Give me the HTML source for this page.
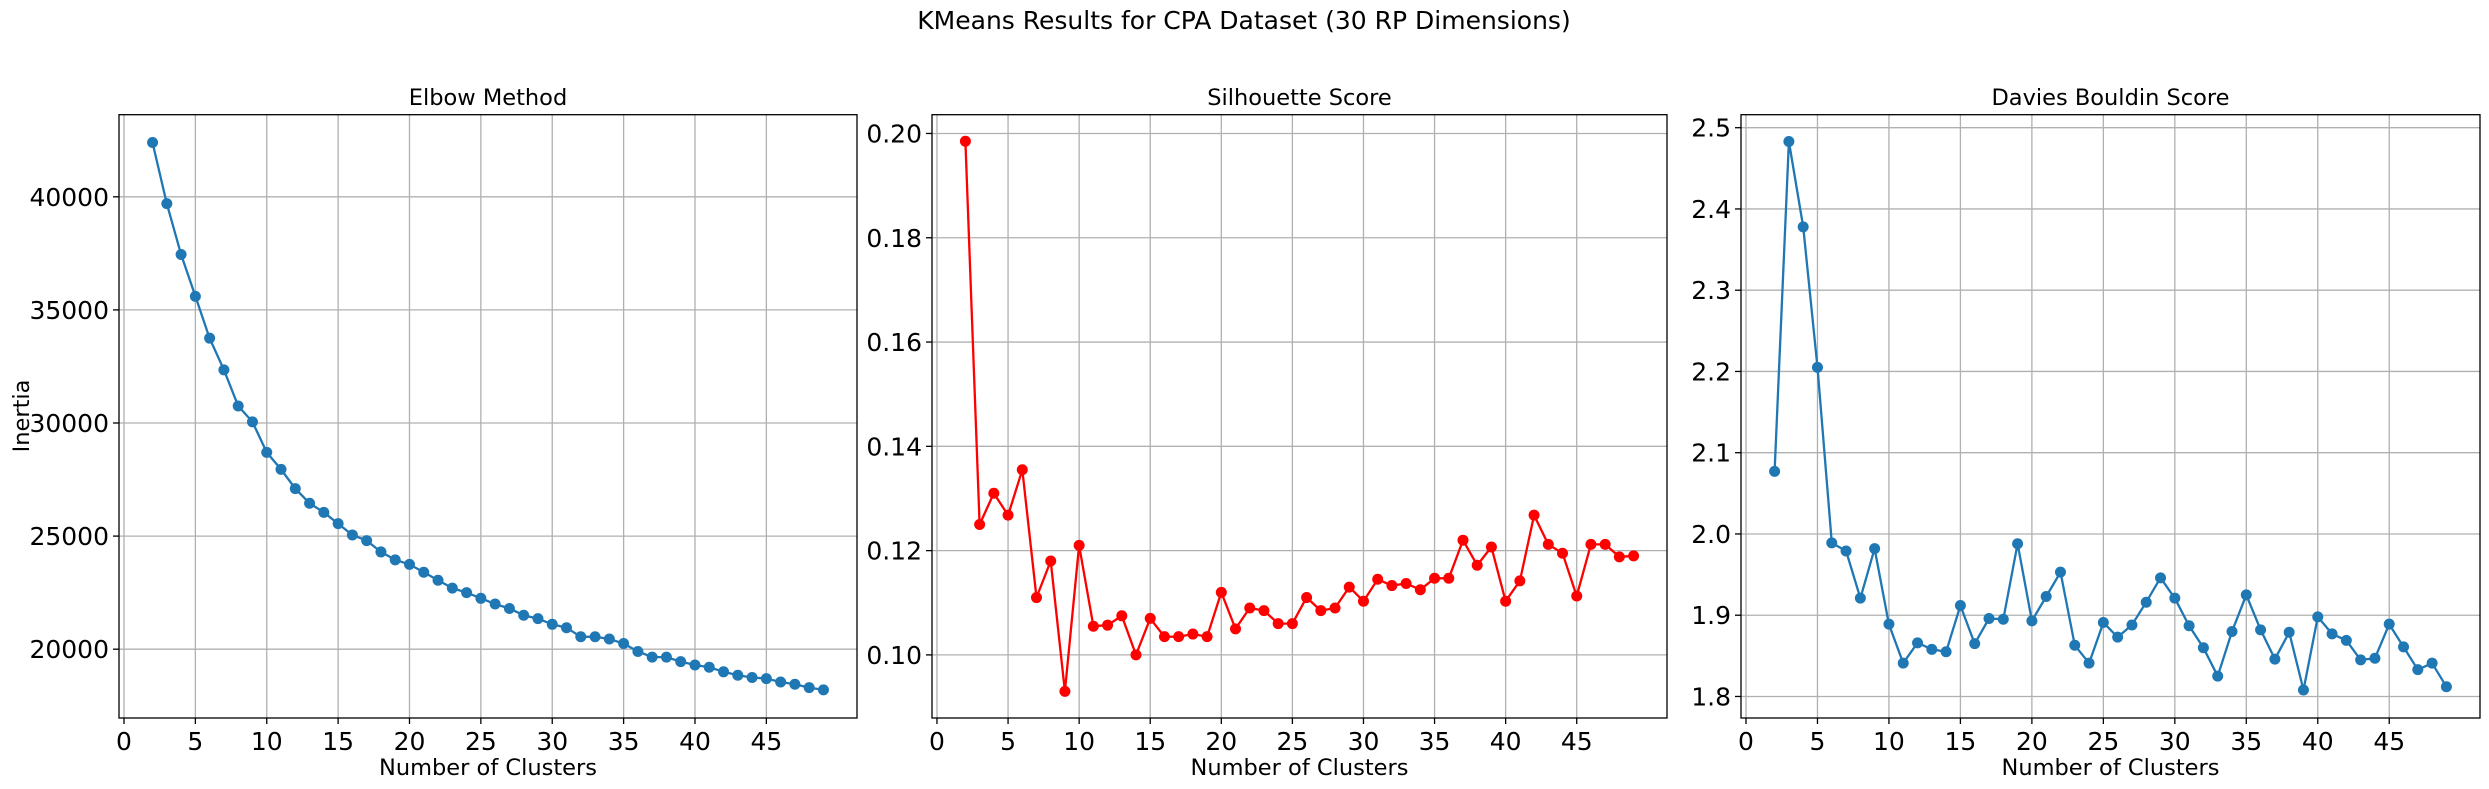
<!DOCTYPE html>
<html><head><meta charset="utf-8"><style>
html,body{margin:0;padding:0;background:#fff;}
svg{display:block;font-family:"DejaVu Sans","Liberation Sans",sans-serif;}
</style></head><body>
<svg id="fig" width="2489" height="789" viewBox="0 0 2489 789" xmlns="http://www.w3.org/2000/svg">
<text x="1244" y="29" text-anchor="middle" font-size="25" fill="#000">KMeans Results for CPA Dataset (30 RP Dimensions)</text>
</svg>
<script>
const clusters = [2,3,4,5,6,7,8,9,10,11,12,13,14,15,16,17,18,19,20,21,22,23,24,25,26,27,28,29,30,31,32,33,34,35,36,37,38,39,40,41,42,43,44,45,46,47,48,49];
const inertia = [42400,39700,37450,35600,33750,32350,30750,30050,28700,27950,27100,26450,26050,25550,25050,24800,24300,23950,23750,23400,23050,22700,22500,22250,22000,21800,21500,21350,21100,20950,20550,20550,20450,20250,19900,19650,19650,19450,19300,19200,19000,18850,18750,18700,18550,18450,18300,18200];
const silhouette = [0.1985,0.125,0.131,0.1268,0.1355,0.111,0.118,0.093,0.121,0.1055,0.1057,0.1075,0.100,0.107,0.1035,0.1035,0.104,0.1035,0.112,0.105,0.109,0.1085,0.106,0.106,0.111,0.1085,0.109,0.113,0.1103,0.1145,0.1133,0.1137,0.1125,0.1147,0.1147,0.122,0.1172,0.1207,0.1103,0.1142,0.1268,0.1212,0.1195,0.1113,0.1212,0.1212,0.1188,0.119];
const davies = [2.077,2.483,2.378,2.205,1.989,1.979,1.921,1.982,1.889,1.841,1.866,1.858,1.855,1.912,1.865,1.896,1.895,1.988,1.893,1.923,1.953,1.863,1.841,1.891,1.873,1.888,1.916,1.946,1.921,1.887,1.86,1.825,1.88,1.925,1.882,1.846,1.879,1.808,1.898,1.877,1.869,1.845,1.847,1.889,1.861,1.833,1.841,1.812];
const xTicks = [0,5,10,15,20,25,30,35,40,45];
const inertiaTicks = [20000,25000,30000,35000,40000];
const silTicks = [0.10,0.12,0.14,0.16,0.18,0.20];
const dbTicks = [1.8,1.9,2.0,2.1,2.2,2.3,2.4,2.5];

const NS="http://www.w3.org/2000/svg";
const svg=document.getElementById('fig');
function mk(tag,attrs,parent){const e=document.createElementNS(NS,tag);for(const k in attrs)e.setAttribute(k,attrs[k]);(parent||svg).appendChild(e);return e;}

const panels=[
 {name:'elbow',title:'Elbow Method',x0:119,x1:857,ymin:16958,ymax:43630,vals:inertia,ticks:inertiaTicks,fmt:v=>String(v),color:'#1f77b4',ylabel:'Inertia'},
 {name:'silhouette',title:'Silhouette Score',x0:932,x1:1667,ymin:0.0879,ymax:0.2036,vals:silhouette,ticks:silTicks,fmt:v=>v.toFixed(2),color:'#ff0000',ylabel:null},
 {name:'davies-bouldin',title:'Davies Bouldin Score',x0:1741,x1:2480,ymin:1.7735,ymax:2.516,vals:davies,ticks:dbTicks,fmt:v=>v.toFixed(1),color:'#1f77b4',ylabel:null}
];
const Y0=114.7,Y1=718,XMIN=-0.35,XMAX=51.35;
panels.forEach(p=>{
 const g=mk('g',{});
 
 
 const sx=v=>p.x0+(v-XMIN)/(XMAX-XMIN)*(p.x1-p.x0);
 const sy=v=>Y1-(v-p.ymin)/(p.ymax-p.ymin)*(Y1-Y0);
 xTicks.forEach(t=>{
  const x=sx(t);
  const l=mk('line',{x1:x,x2:x,y1:Y0,y2:Y1,stroke:'#b0b0b0','stroke-width':1.3},g);
  
  
  mk('line',{x1:x,x2:x,y1:Y1,y2:Y1+6,stroke:'#000','stroke-width':1.3},g);
  const tx=mk('text',{x:x,y:Y1+32,'text-anchor':'middle','font-size':25},g);
  tx.textContent=t;
  
  
 });
 p.ticks.forEach(t=>{
  const y=sy(t);
  const l=mk('line',{x1:p.x0,x2:p.x1,y1:y,y2:y,stroke:'#b0b0b0','stroke-width':1.3},g);
  
  
  mk('line',{x1:p.x0-6,x2:p.x0,y1:y,y2:y,stroke:'#000','stroke-width':1.3},g);
  const tx=mk('text',{x:p.x0-10,y:y+9,'text-anchor':'end','font-size':25},g);
  tx.textContent=p.fmt(t);
  
  
 });
 const pts=clusters.map((c,i)=>sx(c).toFixed(1)+','+sy(p.vals[i]).toFixed(1)).join(' ');
 const line=mk('polyline',{points:pts,fill:'none',stroke:p.color,'stroke-width':2.3},g);
 
 
 clusters.forEach((c,i)=>{
  const m=mk('circle',{cx:sx(c),cy:sy(p.vals[i]),r:5.5,fill:p.color},g);
  
  
 });
 const fr=mk('rect',{x:p.x0,y:Y0,width:p.x1-p.x0,height:Y1-Y0,fill:'none',stroke:'#000','stroke-width':1.3},g);
 
 
 const tt=mk('text',{x:(p.x0+p.x1)/2,y:105,'text-anchor':'middle','font-size':22.5},g);
 tt.textContent=p.title;
 
 
 const xl=mk('text',{x:(p.x0+p.x1)/2,y:775,'text-anchor':'middle','font-size':22.5},g);
 xl.textContent='Number of Clusters';
 
 
 if(p.ylabel){
  const yl=mk('text',{x:0,y:0,'text-anchor':'middle','font-size':22.5,transform:'translate(29,416) rotate(-90)'},g);
  yl.textContent=p.ylabel;
  
  
 }
});
</script>
</body></html>
